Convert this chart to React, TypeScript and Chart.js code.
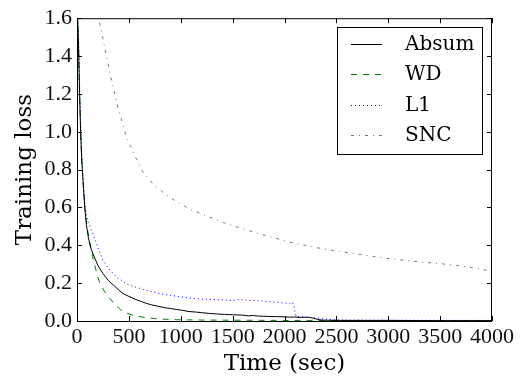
import React, { useEffect, useRef } from 'react';
import { Chart, registerables } from 'chart.js';

Chart.register(...registerables);

// ---- data ----
const absumTime = [5, 15, 25, 35, 45, 58, 75, 90, 110, 130, 154, 200, 251, 300, 350, 400, 443, 500, 560, 620, 669, 720, 780, 850, 900, 958, 1020, 1080, 1150, 1200, 1279, 1350, 1420, 1500, 1550, 1600, 1650, 1700, 1750, 1800, 1850, 1921, 2000, 2050, 2100, 2150, 2200, 2243, 2280, 2320, 2360, 2400, 2600, 3000, 3500, 4000];
const absumLoss = [1.62, 1.45, 1.2, 1.0, 0.86, 0.74, 0.6, 0.51, 0.44, 0.39, 0.355, 0.295, 0.25, 0.215, 0.19, 0.165, 0.145, 0.13, 0.115, 0.103, 0.093, 0.085, 0.078, 0.07, 0.066, 0.061, 0.056, 0.05, 0.047, 0.044, 0.04, 0.037, 0.035, 0.033, 0.032, 0.031, 0.027, 0.029, 0.026, 0.025, 0.024, 0.023, 0.022, 0.02, 0.021, 0.019, 0.02, 0.019, 0.015, 0.008, 0.005, 0.004, 0.003, 0.003, 0.002, 0.002];

const wdTime = [5, 15, 25, 35, 45, 58, 75, 90, 105, 122, 150, 187, 219, 260, 315, 370, 420, 476, 540, 636, 750, 850, 958, 1200, 1600, 2000, 2500, 3000, 4000];
const wdLoss = [1.62, 1.45, 1.2, 1.0, 0.86, 0.74, 0.6, 0.53, 0.47, 0.42, 0.34, 0.26, 0.2, 0.16, 0.12, 0.085, 0.06, 0.042, 0.03, 0.02, 0.013, 0.009, 0.007, 0.005, 0.004, 0.003, 0.003, 0.003, 0.002];

const l1Time = [5, 15, 25, 35, 45, 58, 75, 90, 110, 130, 154, 200, 251, 300, 380, 450, 500, 572, 650, 720, 797, 900, 1000, 1118, 1200, 1300, 1400, 1440, 1500, 1550, 1600, 1700, 1800, 1900, 2000, 2050, 2075, 2090, 2110, 2200, 2300, 2400, 2500, 3000, 4000];
const l1Loss = [1.62, 1.5, 1.25, 1.05, 0.9, 0.76, 0.63, 0.56, 0.52, 0.49, 0.46, 0.39, 0.32, 0.28, 0.232, 0.205, 0.19, 0.178, 0.165, 0.155, 0.145, 0.135, 0.127, 0.119, 0.116, 0.114, 0.112, 0.11, 0.108, 0.114, 0.112, 0.108, 0.105, 0.1, 0.095, 0.092, 0.1, 0.08, 0.025, 0.02, 0.016, 0.01, 0.005, 0.004, 0.003];

const sncTime = [200, 219, 251, 315, 383, 479, 560, 640, 740, 849, 960, 1090, 1250, 1411, 1600, 1764, 1900, 2050, 2200, 2371, 2530, 2693, 2850, 3014, 3170, 3335, 3500, 3657, 3800, 3946, 4000];
const sncLoss = [1.65, 1.57, 1.49, 1.317, 1.15, 0.967, 0.87, 0.783, 0.72, 0.67, 0.63, 0.59, 0.555, 0.52, 0.487, 0.46, 0.44, 0.416, 0.4, 0.381, 0.368, 0.355, 0.342, 0.329, 0.32, 0.311, 0.303, 0.294, 0.283, 0.268, 0.265];

const seriesLabels = ['Absum', 'WD', 'L1', 'SNC'];
const xTickValues = [0, 500, 1000, 1500, 2000, 2500, 3000, 3500, 4000];
const yTickValues = [0, 0.2, 0.4, 0.6, 0.8, 1.0, 1.2, 1.4, 1.6];
const xAxisTitle = 'Time (sec)';
const yAxisTitle = 'Training loss';

const pts = (t: number[], v: number[]) => t.map((x, i) => ({ x, y: v[i] }));

const TICK_FONT = '"Liberation Serif", serif';
const TEXT_FONT = '"DejaVu Serif", serif';

const frameLegendPlugin = {
  id: 'frameLegend',
  afterDatasetsDraw(chart: any) {
    const { ctx, chartArea, scales } = chart;
    const { left, right, top, bottom } = chartArea;
    ctx.save();
    ctx.strokeStyle = '#000';
    ctx.lineWidth = 1;
    ctx.setLineDash([]);
    ctx.strokeRect(left + 0.5, top + 0.5, right - left - 1, bottom - top);
    const tl = 5;
    ctx.beginPath();
    xTickValues.forEach((v) => {
      const px = Math.round(scales.x.getPixelForValue(v)) + 0.5;
      ctx.moveTo(px, bottom);
      ctx.lineTo(px, bottom - tl);
      ctx.moveTo(px, top);
      ctx.lineTo(px, top + tl);
    });
    yTickValues.forEach((v) => {
      const py = Math.round(scales.y.getPixelForValue(v)) + 0.5;
      ctx.moveTo(left, py);
      ctx.lineTo(left + tl, py);
      ctx.moveTo(right, py);
      ctx.lineTo(right - tl, py);
    });
    ctx.stroke();

    // legend box
    const bx = 337, by = 27, bw = 145, bh = 127;
    ctx.fillStyle = '#fff';
    ctx.fillRect(bx, by, bw, bh);
    ctx.strokeRect(bx + 0.5, by + 0.5, bw, bh);
    chart.data.datasets.forEach((ds: any, i: number) => {
      const cy = by + 16.5 + i * 30.5;
      ctx.beginPath();
      ctx.strokeStyle = ds.borderColor;
      ctx.lineWidth = ds.borderWidth;
      ctx.setLineDash(ds.borderDash || []);
      ctx.moveTo(bx + 14, Math.round(cy) + 0.5);
      ctx.lineTo(bx + 45, Math.round(cy) + 0.5);
      ctx.stroke();
      ctx.setLineDash([]);
      ctx.fillStyle = '#000';
      ctx.font = `20px ${TEXT_FONT}`;
      ctx.textBaseline = 'middle';
      ctx.textAlign = 'left';
      ctx.fillText(ds.label, bx + 68, cy + 1);
    });
    ctx.restore();
  },
};

export default function App() {
  const ref = useRef<HTMLCanvasElement>(null);
  useEffect(() => {
    if (!ref.current) return;
    const chart = new Chart(ref.current, {
      type: 'line',
      data: {
        datasets: [
          { label: seriesLabels[0], data: pts(absumTime, absumLoss), borderColor: '#000000', borderWidth: 1, pointRadius: 0, tension: 0 },
          { label: seriesLabels[1], data: pts(wdTime, wdLoss), borderColor: '#008000', borderWidth: 1, borderDash: [6, 6], pointRadius: 0, tension: 0 },
          { label: seriesLabels[2], data: pts(l1Time, l1Loss), borderColor: '#0000ff', borderWidth: 1, borderDash: [1, 3], pointRadius: 0, tension: 0 },
          { label: seriesLabels[3], data: pts(sncTime, sncLoss), borderColor: '#777777', borderWidth: 1, borderDash: [3, 5, 1, 5], pointRadius: 0, tension: 0 },
        ],
      },
      options: {
        animation: false,
        responsive: false,
        parsing: true,
        layout: { padding: { left: 0, top: 16, right: 35, bottom: 0 } },
        plugins: { legend: { display: false }, tooltip: { enabled: false } },
        scales: {
          x: {
            type: 'linear',
            min: 0,
            max: 4000,
            grid: { display: false, drawTicks: false },
            border: { display: false },
            afterBuildTicks: (s: any) => { s.ticks = xTickValues.map((v) => ({ value: v })); },
            afterFit: (s: any) => { s.height = 58; },
            ticks: { font: { family: TICK_FONT, size: 22 }, color: '#111', padding: 3, maxRotation: 0, autoSkip: false, callback: (v: any) => String(v) },
            title: { display: true, text: xAxisTitle, font: { family: TEXT_FONT, size: 23 }, color: '#000', padding: { top: 0, bottom: 1 } },
          },
          y: {
            type: 'linear',
            min: 0,
            max: 1.6,
            grid: { display: false, drawTicks: false },
            border: { display: false },
            afterBuildTicks: (s: any) => { s.ticks = yTickValues.map((v) => ({ value: v })); },
            afterFit: (s: any) => { s.width = 77; },
            ticks: { font: { family: TICK_FONT, size: 22 }, color: '#111', padding: 5, autoSkip: false, callback: (v: any) => Number(v).toFixed(1) },
            title: { display: true, text: yAxisTitle, font: { family: TEXT_FONT, size: 23 }, color: '#000', padding: { top: 11, bottom: 0 } },
          },
        },
      },
      plugins: [frameLegendPlugin],
    });
    return () => chart.destroy();
  }, []);
  return (
    <div style={{ position: 'absolute', left: 0, top: 0, width: 527, height: 379, background: '#fff' }}>
      <canvas ref={ref} width={527} height={379} style={{ display: 'block' }} />
    </div>
  );
}
